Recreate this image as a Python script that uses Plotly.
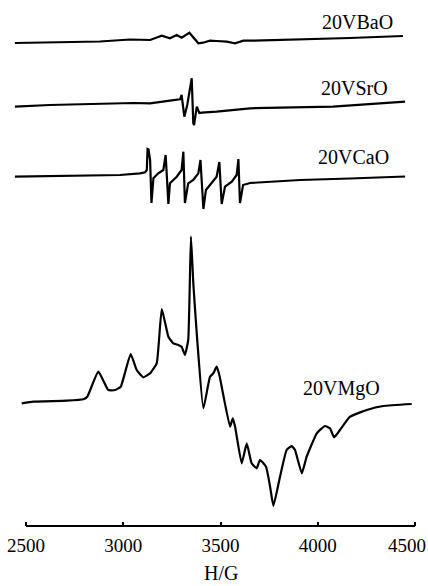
import plotly.graph_objects as go

# Magnetic field (G) and EPR intensity (arb. units) for each sample
bao_field = [2443, 2675, 2880, 3035, 3138, 3198, 3240, 3275, 3300, 3340, 3386, 3410,
             3446, 3480, 3532, 3575, 3617, 3652, 3909, 4166, 4438]
bao_int = [-2, -1.5, -0.5, 1.5, 1, 5.3, 2.7, 6, 3.3, 8.3, -2.3, -1.7,
           0.3, 0, -0.7, -2.3, 0.3, 0.3, 1.5, 3, 5]

sro_field = [2443, 2623, 3050, 3138, 3240, 3292, 3300, 3314, 3329, 3334, 3352, 3360,
             3364, 3378, 3391, 3403, 3480, 3652, 4078, 4449]
sro_int = [-0.7, 1, 3, 2.7, 5.3, 6.7, 11, -10.7, 1, 6, 27.7, -17.3,
           -19, -0.7, -7, -6.7, -5.7, -2.3, -0.7, 4.3]

cao_field = [2443, 2983, 3086, 3112, 3121, 3125, 3130, 3138, 3145, 3155, 3180, 3206,
             3218, 3232, 3240, 3275, 3300, 3309, 3317, 3334, 3360, 3386, 3397, 3412,
             3425, 3455, 3480, 3494, 3506, 3523, 3558, 3583, 3592, 3600, 3616, 3652,
             3909, 4166, 4449]
cao_int = [-0.7, 1, 2.7, 3.7, 6, 27, 26.5, 16, -27, -2.3, 2.7, 6,
           21, -28, -7.3, -0.7, 6, 24.3, -27, -7.3, -4, 2.7, 16, -33,
           -14, -7.3, -0.7, 14, -28, -10.7, -5.7, 1, 17, -27, -9, -7,
           -4, -2.5, -0.5]

mgo_field = [2478, 2538, 2709, 2795, 2815, 2872, 2923, 2958, 2987, 3038, 3069, 3103,
             3138, 3172, 3198, 3232, 3257, 3283, 3300, 3317, 3334, 3348, 3361, 3412,
             3446, 3463, 3480, 3494, 3549, 3563, 3575, 3609, 3635, 3660, 3686, 3703,
             3734, 3755, 3772, 3806, 3840, 3866, 3883, 3918, 3943, 3995, 4037, 4063,
             4084, 4114, 4166, 4252, 4337, 4483]
mgo_int = [-1.3, 0.3, 1.3, 2.7, 5.3, 30.3, 12, 12, 15.3, 48, 32, 24.7,
           28.7, 38.7, 93, 65.3, 58.7, 57, 55.3, 47, 62, 165.3, 116, -6.3,
           25.3, 28.7, 35.3, 27, -24.7, -16.3, -24.7, -61.3, -41.3, -61.3, -66.3, -58,
           -64.7, -84.7, -104, -74.7, -48, -44, -48, -71.3, -54.7, -31.3, -24, -26.3,
           -35.3, -28, -14.7, -8, -4, -2]

labels = ["20VBaO", "20VSrO", "20VCaO", "20VMgO"]
offsets = [485, 420, 350, 124]
fields = [bao_field, sro_field, cao_field, mgo_field]
intensities = [bao_int, sro_int, cao_int, mgo_int]
shapes = ["linear", "linear", "linear", "spline"]
label_x = [4202, 4191, 4186, 4120]
label_y = [504, 438, 369, 138]

tick_vals = [2500, 3000, 3500, 4000, 4500]
tick_text = ["2500", "3000", "3500", "4000", ""]
last_tick_label = "4500"

FONT = "Liberation Serif, Times New Roman, serif"

fig = go.Figure()
for f, it, off, shp in zip(fields, intensities, offsets, shapes):
    fig.add_trace(go.Scatter(x=f, y=[v + off for v in it], mode="lines",
                             line=dict(color="black", width=2.2, shape=shp,
                                       smoothing=0.4),
                             showlegend=False, hoverinfo="skip"))

for lab, lx, ly in zip(labels, label_x, label_y):
    fig.add_annotation(x=lx, y=ly, xref="x", yref="y", text=lab, showarrow=False,
                       font=dict(family=FONT, size=20, color="black"),
                       xanchor="center", yanchor="middle")

fig.add_annotation(x=4459, y=-0.038, xref="x", yref="paper", text=last_tick_label,
                   showarrow=False, font=dict(family=FONT, size=19, color="black"),
                   xanchor="center", yanchor="middle")

fig.add_annotation(x=3500, y=-0.1141, xref="x", yref="paper", text="H/G", showarrow=False,
                   font=dict(family=FONT, size=20, color="black"),
                   xanchor="center", yanchor="bottom")

# axis baseline from 2500 to 4500
fig.add_shape(type="line", xref="x", yref="paper", x0=tick_vals[0], x1=tick_vals[-1],
              y0=0, y1=0, line=dict(color="black", width=2))

fig.update_layout(
    width=428, height=586,
    margin=dict(l=0, r=0, t=0, b=60),
    paper_bgcolor="white", plot_bgcolor="white",
    xaxis=dict(range=[2366.3, 4566.8], showgrid=False, zeroline=False, showline=False,
               tickvals=tick_vals, ticktext=tick_text, ticks="inside", ticklen=4,
               tickwidth=2, tickcolor="black", ticklabeloverflow="allow",
               ticklabelstandoff=6,
               tickfont=dict(family=FONT, size=19, color="black")),
    yaxis=dict(range=[0, 526], visible=False, showgrid=False, zeroline=False),
    font=dict(family=FONT, color="black"),
)

fig.write_html("out.html",
               config={"displayModeBar": False, "staticPlot": True},
               post_script="document.body.style.margin='0';document.body.style.overflow='hidden';")
